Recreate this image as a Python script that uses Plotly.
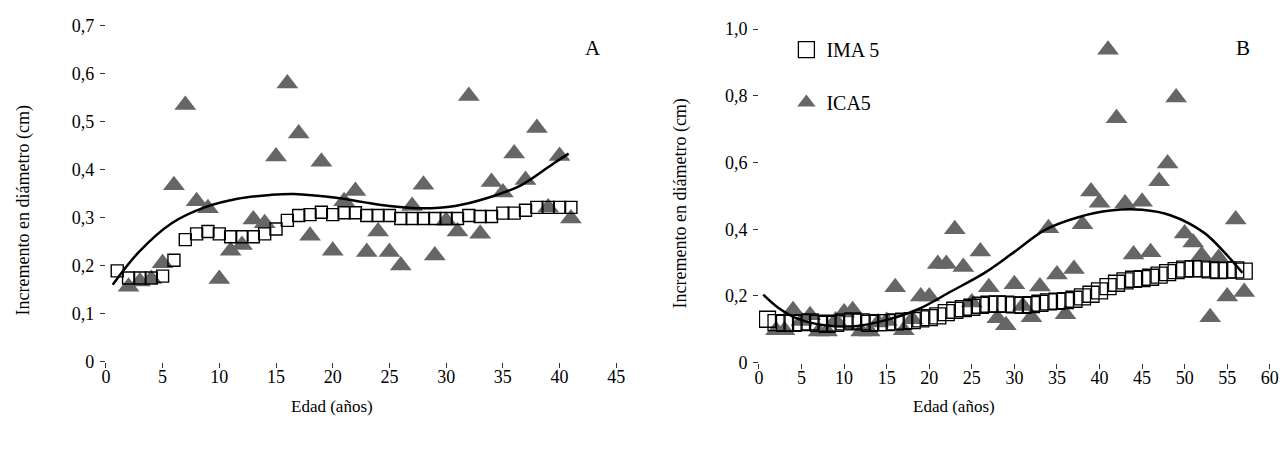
import plotly.graph_objects as go

# ---------------- Panel A data ----------------
age_a_ima = list(range(1, 42))
ima_a = [0.189, 0.174, 0.174, 0.174, 0.178, 0.211, 0.254, 0.266, 0.271, 0.266,
         0.260, 0.260, 0.260, 0.266, 0.276, 0.294, 0.304, 0.306, 0.311, 0.306,
         0.310, 0.310, 0.304, 0.304, 0.304, 0.298, 0.298, 0.298, 0.298, 0.298,
         0.298, 0.304, 0.302, 0.302, 0.309, 0.309, 0.315, 0.321, 0.321, 0.321,
         0.321]
age_a_ica = list(range(2, 42))
ica_a = [0.156, 0.167, 0.172, 0.205, 0.367, 0.534, 0.334, 0.319, 0.172, 0.231,
         0.243, 0.296, 0.288, 0.427, 0.579, 0.475, 0.262, 0.416, 0.231, 0.334,
         0.355, 0.228, 0.271, 0.228, 0.200, 0.324, 0.368, 0.221, 0.293, 0.271,
         0.553, 0.266, 0.374, 0.352, 0.433, 0.378, 0.486, 0.321, 0.428, 0.298]
trend_a_x = [0.6, 2.9, 5.8, 8.7, 11.6, 14.5, 16.6, 20.3, 22.7, 25.0, 27.9,
             30.8, 33.7, 36.6, 39.5, 40.8]
trend_a_y = [0.160, 0.228, 0.288, 0.321, 0.339, 0.347, 0.349, 0.341, 0.332,
             0.324, 0.319, 0.324, 0.341, 0.367, 0.413, 0.433]

# ---------------- Panel B data ----------------
age_b_ima = list(range(1, 58))
ima_b = [0.130, 0.120, 0.118, 0.118, 0.120, 0.122, 0.118, 0.115, 0.118, 0.122,
         0.125, 0.122, 0.118, 0.120, 0.120, 0.122, 0.124, 0.126, 0.131, 0.135,
         0.140, 0.150, 0.157, 0.162, 0.166, 0.172, 0.175, 0.176, 0.175, 0.173,
         0.172, 0.174, 0.178, 0.182, 0.184, 0.186, 0.190, 0.197, 0.205, 0.215,
         0.228, 0.238, 0.245, 0.250, 0.252, 0.256, 0.262, 0.270, 0.276, 0.280,
         0.282, 0.281, 0.278, 0.276, 0.277, 0.278, 0.274]
age_b_ica = list(range(2, 58))
ica_b = [0.097, 0.097, 0.157, 0.125, 0.142, 0.093, 0.093, 0.126, 0.150, 0.157,
         0.093, 0.093, 0.120, 0.125, 0.226, 0.097, 0.130, 0.198, 0.198, 0.296,
         0.296, 0.400, 0.287, 0.180, 0.333, 0.226, 0.133, 0.112, 0.235, 0.170,
         0.136, 0.228, 0.403, 0.264, 0.145, 0.281, 0.415, 0.513, 0.479, 0.938,
         0.733, 0.477, 0.324, 0.482, 0.331, 0.544, 0.597, 0.795, 0.387, 0.360,
         0.322, 0.136, 0.314, 0.198, 0.429, 0.212]
trend_b_x = [0.5, 2.3, 4.6, 7.7, 11.6, 15.0, 18.7, 22.6, 26.5, 30.0, 33.6,
             37.5, 41.3, 45.0, 48.4, 52.3, 54.65, 56.8]
trend_b_y = [0.204, 0.164, 0.131, 0.112, 0.110, 0.128, 0.160, 0.214, 0.269,
             0.332, 0.398, 0.436, 0.456, 0.458, 0.441, 0.389, 0.331, 0.269]

# ---------------- Tick labels ----------------
ytick_a_vals = [0, 0.1, 0.2, 0.3, 0.4, 0.5, 0.6, 0.7]
ytick_a_text = ["0", "0,1", "0,2", "0,3", "0,4", "0,5", "0,6", "0,7"]
ytick_b_vals = [0, 0.2, 0.4, 0.6, 0.8, 1.0]
ytick_b_text = ["0", "0,2", "0,4", "0,6", "0,8", "1,0"]
xtick_a_vals = [0, 5, 10, 15, 20, 25, 30, 35, 40, 45]
xtick_b_vals = [0, 5, 10, 15, 20, 25, 30, 35, 40, 45, 50, 55, 60]

x_title = "Edad (años)"
y_title = "Incremento en diámetro (cm)"
series_names = ["IMA 5", "ICA5"]

FONT = "serif"
TRI = "#666666"
W, H = 1285, 450
TICK_FS = 18

fig = go.Figure()

# Panel A
fig.add_trace(go.Scatter(x=age_a_ica, y=ica_a, mode="markers", xaxis="x", yaxis="y",
                         marker=dict(symbol="triangle-up", size=19, color=TRI, line=dict(width=0)),
                         showlegend=False))
fig.add_trace(go.Scatter(x=age_a_ima, y=ima_a, mode="markers", xaxis="x", yaxis="y",
                         marker=dict(symbol="square-open", size=12, color="black", line=dict(width=1.4)),
                         showlegend=False))
fig.add_trace(go.Scatter(x=trend_a_x, y=trend_a_y, mode="lines", xaxis="x", yaxis="y",
                         line=dict(color="black", width=2.5, shape="spline", smoothing=1.0),
                         showlegend=False))

# Panel B (IMA first for legend order; zorder keeps squares above triangles)
fig.add_trace(go.Scatter(x=age_b_ima, y=ima_b, mode="markers", xaxis="x2", yaxis="y2",
                         name=series_names[0], legendgroup="g1", zorder=1,
                         marker=dict(symbol="square-open", size=16, color="black", line=dict(width=1.3))))
fig.add_trace(go.Scatter(x=age_b_ica, y=ica_b, mode="markers", xaxis="x2", yaxis="y2",
                         name=series_names[1], legendgroup="g2", zorder=0,
                         marker=dict(symbol="triangle-up", size=19, color=TRI, line=dict(width=0))))
fig.add_trace(go.Scatter(x=trend_b_x, y=trend_b_y, mode="lines", xaxis="x2", yaxis="y2",
                         zorder=2, showlegend=False,
                         line=dict(color="black", width=2.5, shape="spline", smoothing=1.0)))

axis_common = dict(showgrid=False, zeroline=False, showline=True, linecolor="#333333",
                   linewidth=1, ticks="outside", ticklen=5, tickwidth=1, tickcolor="#333333",
                   tickfont=dict(family=FONT, size=TICK_FS, color="black"), fixedrange=True)

fig.update_layout(
    width=W, height=H,
    margin=dict(l=0, r=0, t=0, b=0),
    paper_bgcolor="white", plot_bgcolor="white",
    font=dict(family=FONT, size=TICK_FS, color="black"),
    xaxis=dict(domain=[102 / W, 618 / W], range=[0, 45], tickvals=xtick_a_vals,
               anchor="y", ticklabelstandoff=-6, **axis_common),
    yaxis=dict(domain=[(H - 368) / H, (H - 16) / H], range=[0, 0.7], tickvals=ytick_a_vals,
               ticktext=ytick_a_text, anchor="x", ticklabelstandoff=2, **axis_common),
    xaxis2=dict(domain=[762.3 / W, 1278.7 / W], range=[0, 60], tickvals=xtick_b_vals,
                anchor="y2", ticklabelstandoff=-6, **axis_common),
    yaxis2=dict(domain=[(H - 369) / H, (H - 20) / H], range=[0, 1.0], tickvals=ytick_b_vals,
                ticktext=ytick_b_text, anchor="x2", ticklabelstandoff=2, **axis_common),
    legend=dict(x=790 / W, y=1 - 21 / H, xanchor="left", yanchor="top",
                traceorder="grouped", tracegroupgap=24,
                font=dict(family=FONT, size=20, color="black"),
                bgcolor="rgba(0,0,0,0)", itemsizing="trace"),
    annotations=[
        dict(text="A", x=594 / W, y=1 - 40 / H, xref="paper", yref="paper", showarrow=False,
             xanchor="center", yanchor="middle", font=dict(family=FONT, size=21, color="black")),
        dict(text="B", x=1252 / W, y=1 - 40 / H, xref="paper", yref="paper", showarrow=False,
             xanchor="center", yanchor="middle", font=dict(family=FONT, size=21, color="black")),
        dict(text=x_title, x=331 / W, y=1 - 415 / H, xref="paper", yref="paper", showarrow=False,
             xanchor="center", yanchor="middle", font=dict(family=FONT, size=17, color="black")),
        dict(text=x_title, x=959 / W, y=1 - 415 / H, xref="paper", yref="paper", showarrow=False,
             xanchor="center", yanchor="middle", font=dict(family=FONT, size=17, color="black")),
        dict(text=y_title, x=19 / W, y=1 - 210 / H, xref="paper", yref="paper", showarrow=False,
             xanchor="center", yanchor="middle",
             textangle=-90, font=dict(family=FONT, size=18, color="black")),
        dict(text=y_title, x=683 / W, y=1 - 203 / H, xref="paper", yref="paper", showarrow=False,
             xanchor="center", yanchor="middle",
             textangle=-90, font=dict(family=FONT, size=18, color="black")),
    ],
)

fig.write_html("out.html", config={"displayModeBar": False},
               post_script="document.body.style.margin='0';document.body.style.overflow='hidden';")
